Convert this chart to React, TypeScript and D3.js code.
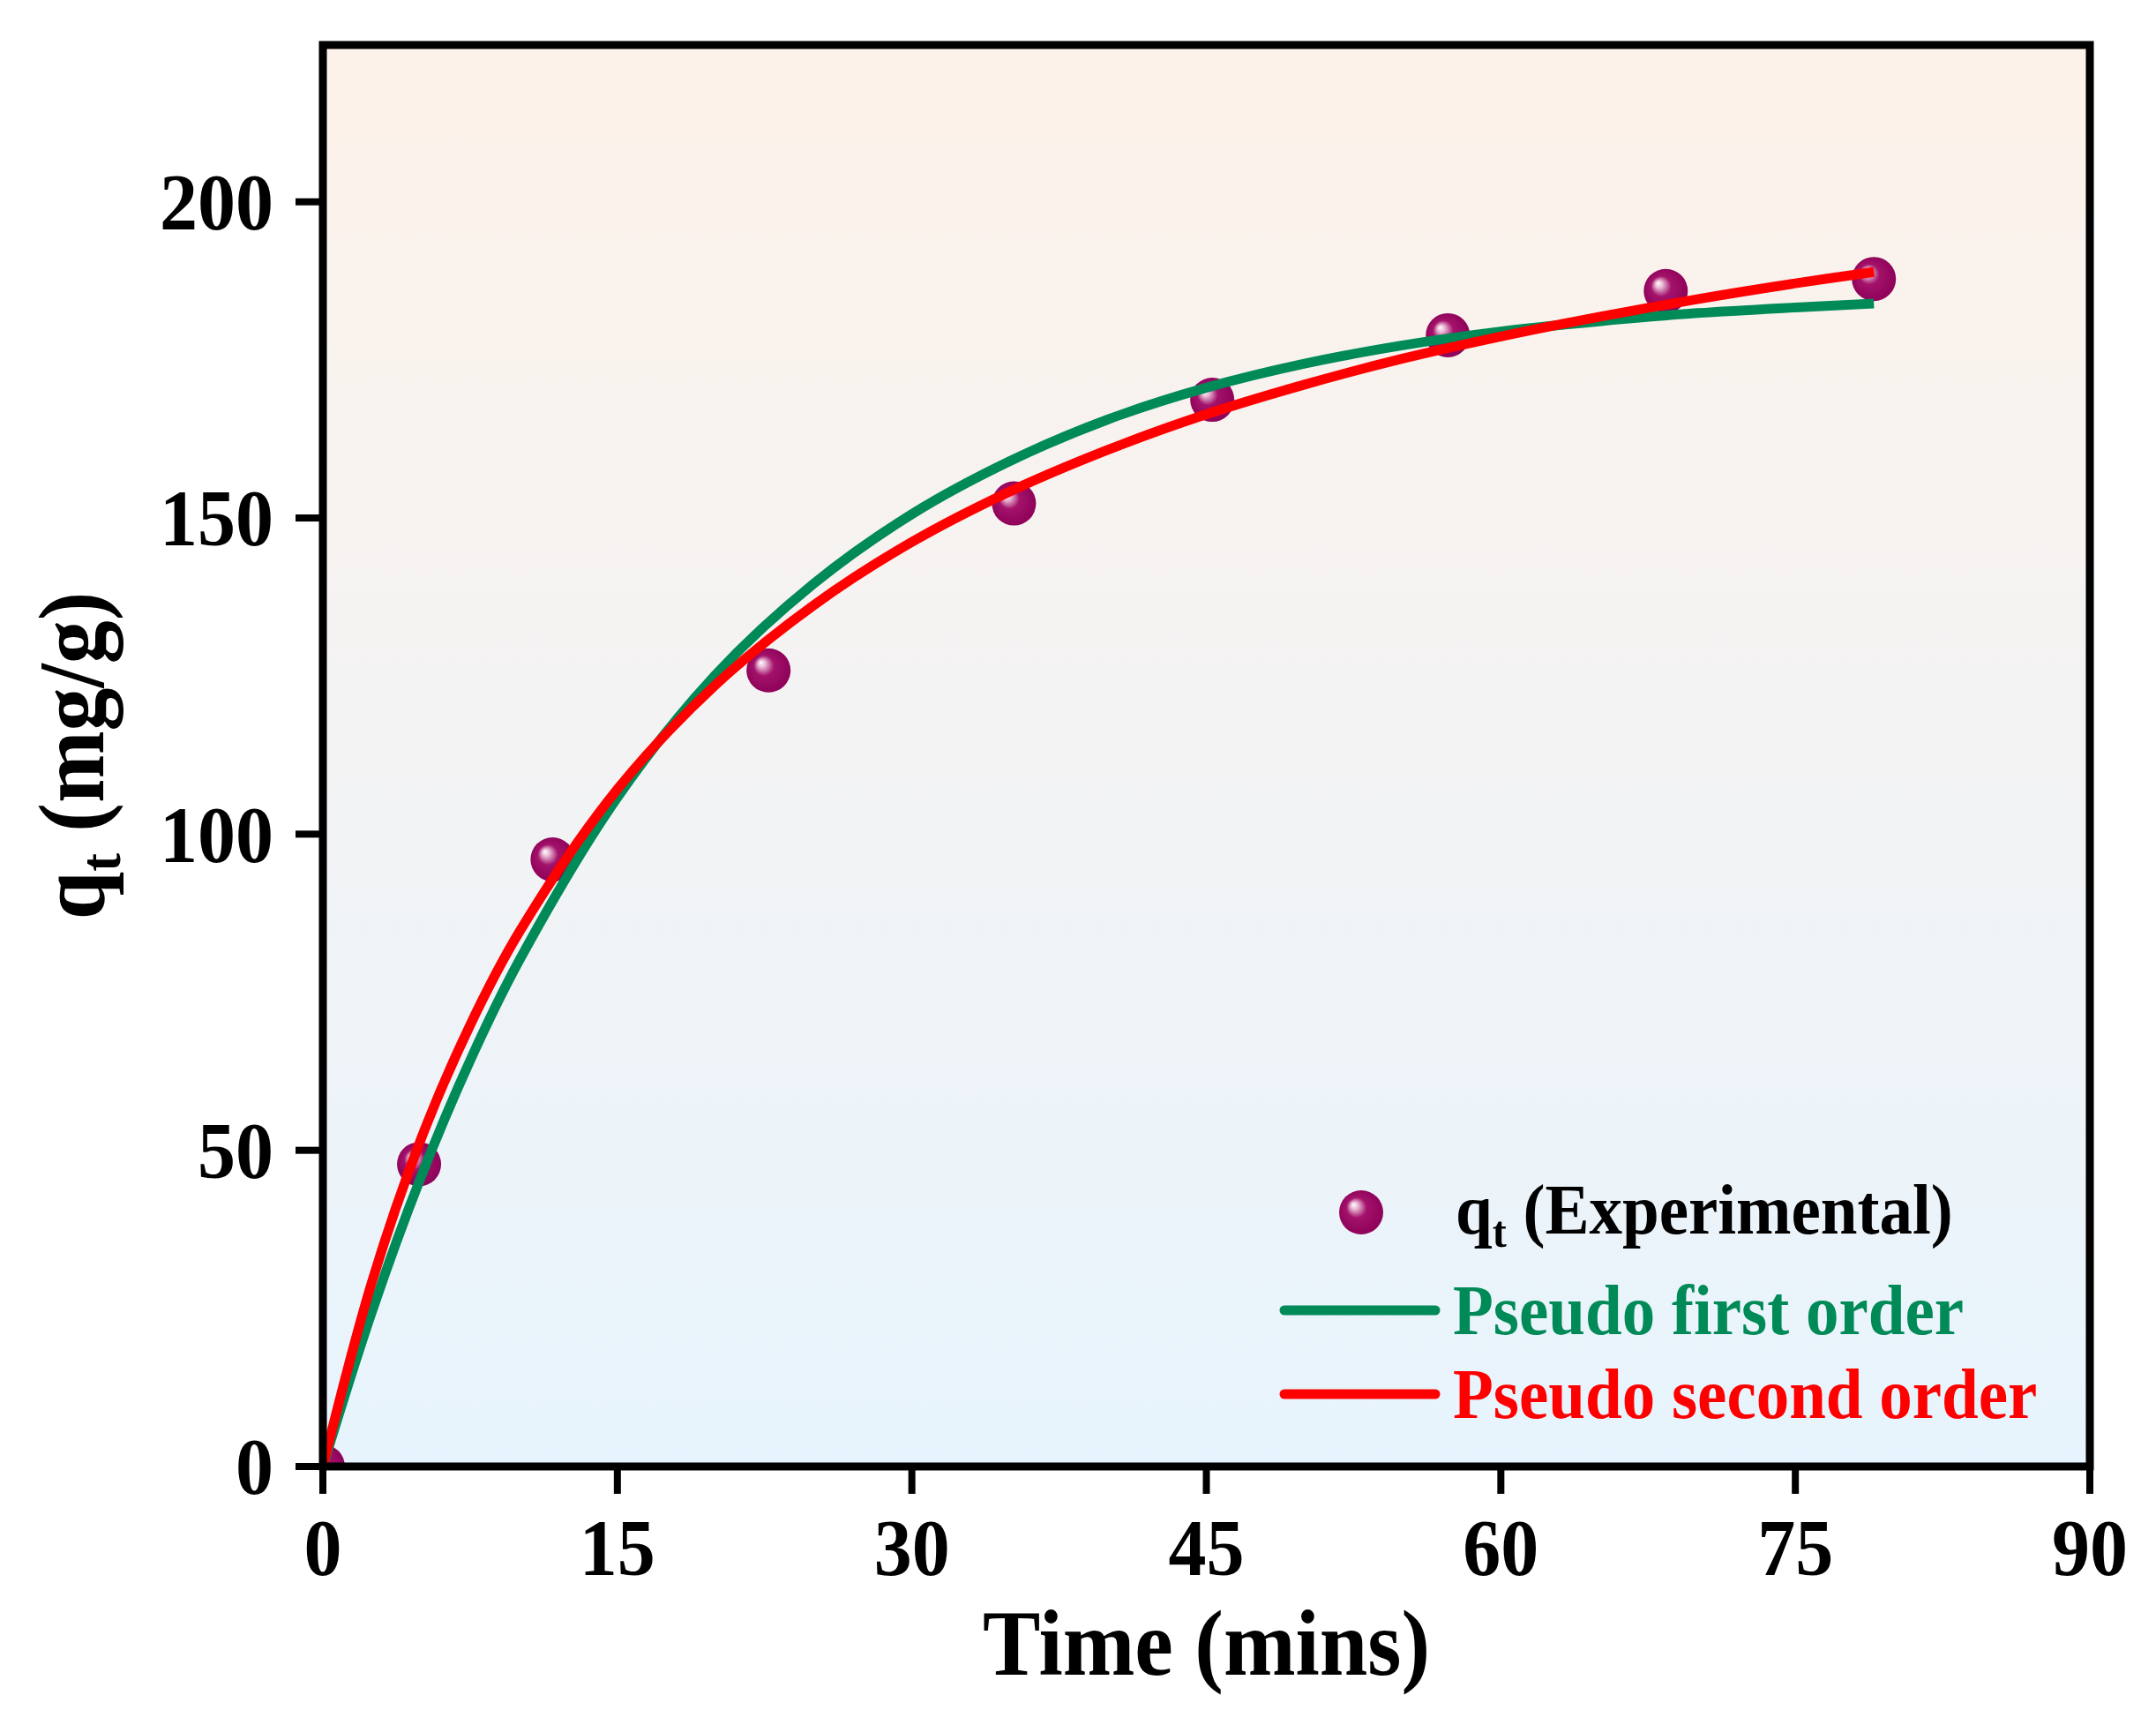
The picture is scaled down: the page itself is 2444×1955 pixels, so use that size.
import { scaleLinear, line, curveCatmullRom } from 'd3';
import React from 'react';

// experimental points
const timeExp = [0, 4.9, 11.7, 22.7, 35.2, 45.3, 57.3, 68.4, 79.0];
const qtExp = [0, 47.8, 96.0, 125.9, 152.3, 168.7, 178.9, 185.9, 187.8];

// fitted curves
const timeFit = [0, 2.5, 5, 7.5, 10, 15, 20, 25, 30, 35, 40, 45, 50, 55, 60, 65, 70, 75, 79];
const qtFirst = [0, 24.5, 45.8, 64.2, 80.0, 105.8, 125.2, 139.6, 150.6, 159.0, 165.6, 170.6, 174.4, 177.3, 179.5, 181.1, 182.4, 183.3, 183.9];
const qtSecond = [0, 29.2, 51.8, 69.8, 84.5, 107.1, 123.6, 136.2, 146.2, 154.2, 160.8, 166.4, 171.1, 175.2, 178.7, 181.8, 184.6, 187.1, 188.9];

const xTicks = [0, 15, 30, 45, 60, 75, 90];
const yTicks = [0, 50, 100, 150, 200];

const width = 2444;
const height = 1955;
const plot = { left: 366, right: 2369, top: 51, bottom: 1662 };
const font = '"Liberation Serif", "Times New Roman", serif';
const stretch = 1.07;

const App = () => {
	const x = scaleLinear().domain([0, 90]).range([plot.left, plot.right]);
	const y = scaleLinear().domain([0, 224.8]).range([plot.bottom, plot.top]);

	const path = line<number>()
		.x((_, i) => x(timeFit[i]))
		.y(d => y(d))
		.curve(curveCatmullRom);

	return (
		<svg
			width={width}
			height={height}
			style={{ position: 'absolute', left: 0, top: 0, background: '#fff' }}
		>
			<defs>
				<linearGradient id="bg" x1="0" y1="0" x2="0" y2="1">
					<stop offset="0%" stopColor="#fdf2e9" />
					<stop offset="50%" stopColor="#f3f3f4" />
					<stop offset="100%" stopColor="#e7f4fd" />
				</linearGradient>
				<radialGradient id="ball" cx="50%" cy="50%" r="55%" fx="32%" fy="32%">
					<stop offset="0%" stopColor="#ffffff" />
					<stop offset="15%" stopColor="#eab9d5" />
					<stop offset="42%" stopColor="#a3126b" />
					<stop offset="100%" stopColor="#8c0057" />
				</radialGradient>
				<clipPath id="clip">
					<rect x={plot.left} y={plot.top} width={plot.right - plot.left} height={plot.bottom - plot.top} />
				</clipPath>
			</defs>

			<rect
				x={plot.left}
				y={plot.top}
				width={plot.right - plot.left}
				height={plot.bottom - plot.top}
				fill="url(#bg)"
			/>

			<g clipPath="url(#clip)">
				{timeExp.map((t, i) => (
					<circle key={t} cx={x(t)} cy={y(qtExp[i])} r={25} fill="url(#ball)" />
				))}
				<path d={path(qtFirst) || ''} fill="none" stroke="#008a57" strokeWidth={11} />
				<path d={path(qtSecond) || ''} fill="none" stroke="#ff0000" strokeWidth={11} />
			</g>

			{/* frame */}
			<rect
				x={plot.left}
				y={plot.top}
				width={plot.right - plot.left}
				height={plot.bottom - plot.top}
				fill="none"
				stroke="#000"
				strokeWidth={9}
			/>

			{xTicks.map(t => (
				<g key={t} transform={`translate(${x(t)},0)`}>
					<line y1={plot.bottom} y2={plot.bottom + 31} stroke="#000" strokeWidth={8} />
					<text
						transform={`translate(0,1785) scale(1,${stretch})`}
						textAnchor="middle"
						fontFamily={font}
						fontWeight="bold"
						fontSize={86}
					>
						{t}
					</text>
				</g>
			))}
			{yTicks.map(t => (
				<g key={t} transform={`translate(0,${y(t)})`}>
					<line x1={plot.left - 31} x2={plot.left} stroke="#000" strokeWidth={8} />
					<text
						transform={`translate(310,0) scale(1,${stretch})`}
						dy="0.34em"
						textAnchor="end"
						fontFamily={font}
						fontWeight="bold"
						fontSize={86}
					>
						{t}
					</text>
				</g>
			))}

			<text
				transform={`translate(${(plot.left + plot.right) / 2},1898) scale(1,${stretch})`}
				textAnchor="middle"
				fontFamily={font}
				fontWeight="bold"
				fontSize={98}
			>
				Time (mins)
			</text>
			<text
				transform={`translate(117,${(plot.top + plot.bottom) / 2}) rotate(-90) scale(1,${stretch})`}
				textAnchor="middle"
				fontFamily={font}
				fontWeight="bold"
				fontSize={98}
			>
				q<tspan fontSize={62} dy={18}>t</tspan>
				<tspan dy={-18}> (mg/g)</tspan>
			</text>

			{/* legend */}
			<g fontFamily={font} fontWeight="bold" fontSize={75}>
				<circle cx={1543} cy={1374} r={25} fill="url(#ball)" />
				<text transform={`translate(1650,1398) scale(1,${stretch})`} fill="#000">
					q<tspan fontSize={48} dy={14}>t</tspan>
					<tspan dy={-14}> (Experimental)</tspan>
				</text>
				<line x1={1456} x2={1627} y1={1485} y2={1485} stroke="#008a57" strokeWidth={11} strokeLinecap="round" />
				<text transform={`translate(1647,1512) scale(1,${stretch})`} fill="#008a57">
					Pseudo first order
				</text>
				<line x1={1456} x2={1627} y1={1580} y2={1580} stroke="#ff0000" strokeWidth={11} strokeLinecap="round" />
				<text transform={`translate(1647,1607) scale(1,${stretch})`} fill="#ff0000">
					Pseudo second order
				</text>
			</g>
		</svg>
	);
};

export default App;
